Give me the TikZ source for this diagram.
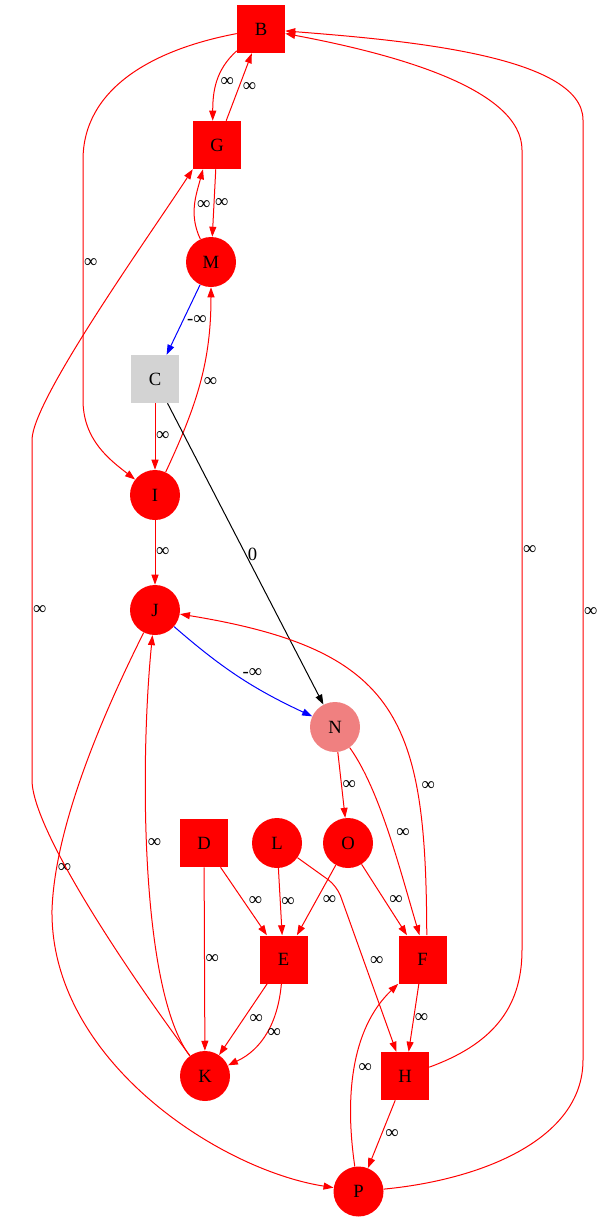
\documentclass[tikz,border=0pt]{standalone}
\usepackage{fontspec}
\setmainfont{Liberation Serif}
\usetikzlibrary{arrows.meta}
\definecolor{cgray}{HTML}{D3D3D3}
\definecolor{coral}{HTML}{F08080}
\begin{document}
\begin{tikzpicture}[x=0.75pt,y=0.75pt,
    every node/.style={font=\fontsize{14}{17}\selectfont,text=black},
    snode/.style={rectangle,fill=red,minimum size=36pt,inner sep=0pt},
    rnode/.style={circle,fill=red,minimum size=37.5pt,inner sep=0pt},
    link/.style={red,line width=0.75pt,-{Triangle[length=7.5pt,width=5.25pt]}},
    lbl/.style={right,inner sep=0.5pt}]
    \useasboundingbox (0,0) rectangle (602,-1221);

    % upper part
    \node[snode] (B) at (261,-29) {B};
    \node[snode] (G) at (217,-145) {G};
    \node[rnode] (M) at (211,-262) {M};
    \node[snode,fill=cgray] (C) at (155,-379) {C};
    \node[rnode] (I) at (155,-495) {I};
    \node[rnode] (J) at (155,-610) {J};
    \node[rnode,fill=coral] (N) at (335,-727) {N};

    % lower part
    \node[snode] (D) at (204,-843) {D};
    \node[rnode] (L) at (277,-843) {L};
    \node[rnode] (O) at (348,-843) {O};
    \node[snode] (E) at (283.5,-959.5) {E};
    \node[snode] (F) at (422.5,-959.5) {F};
    \node[rnode] (K) at (205,-1076) {K};
    \node[snode] (H) at (405,-1076) {H};
    \node[rnode] (P) at (358.5,-1191.5) {P};

    % bends of the long edges
    \coordinate (bi1) at (83,-160);
    \coordinate (bi2) at (83,-400);
    \coordinate (kg1) at (32,-780);
    \coordinate (kg2) at (32,-440);
    \coordinate (jp) at (52,-910);
    \coordinate (lh) at (337,-886);
    \coordinate (hb1) at (522,-950);
    \coordinate (hb2) at (522,-150);
    \coordinate (pb1) at (583,-1060);
    \coordinate (pb2) at (583,-120);

    % edges near the top
    \draw[link] (B) to[out=222,in=90] node[lbl,xshift=2pt]{∞} (G.100);
    \draw[link] (G) -- node[lbl,xshift=2pt]{∞} (B);
    \draw[link] (G) -- node[lbl]{∞} (M);
    \draw[link] (M) to[out=115,in=255] node[lbl,xshift=1pt]{∞} (G.240);
    \draw[link,blue] (M) -- node[lbl,xshift=2pt]{-∞} (C);
    \draw[link] (I) to[out=65,in=270] node[lbl,xshift=2pt]{∞} (M);
    \draw[link] (C) -- node[lbl]{∞} (I);
    \draw[link,black] (C) -- node[lbl,xshift=1pt]{0} (N);
    \draw[link] (B) .. controls (150,-50) and (83,-90) .. (bi1)
        -- node[lbl,pos=0.43]{∞} (bi2) .. controls (83,-440) and (110,-460) .. (I);
    \draw[link] (I) -- node[lbl]{∞} (J);
    \draw[link,blue] (J) to[bend right=8] node[above,pos=0.6,yshift=2pt]{-∞} (N);
    \draw[link] (F.80) .. controls (426,-720) and (400,-650) .. (J)
        node[lbl,pos=0.28,xshift=3pt]{∞};
    \draw[link] (J) .. controls (110,-700) and (55,-820) .. (jp)
        node[lbl,pos=0.85]{∞} .. controls (50,-1060) and (220,-1170) .. (P);
    \draw[link] (K) .. controls (130,-975) and (32,-830) .. (kg1)
        -- node[lbl]{∞} (kg2) .. controls (32,-400) and (150,-235) .. (G.south west);
    \draw[link] (K) .. controls (140,-990) and (140,-760) .. (J)
        node[lbl,pos=0.55]{∞};

    % edges near the bottom
    \draw[link] (N) -- node[lbl]{∞} (O);
    \draw[link] (N) .. controls (380,-790) and (400,-870) .. (F.97)
        node[lbl,pos=0.5,xshift=5pt]{∞};
    \draw[link] (D) -- node[lbl]{∞} (K);
    \draw[link] (D) -- node[lbl,xshift=3pt]{∞} (E);
    \draw[link] (L) -- node[lbl]{∞} (E);
    \draw[link] (O) -- node[lbl,xshift=4pt]{∞} (E);
    \draw[link] (O) -- node[lbl,xshift=3pt]{∞} (F);
    \draw[link,rounded corners=8pt] (L) -- (lh) -- node[lbl,pos=0.45,xshift=4pt]{∞} (H);
    \draw[link] (E) -- node[lbl,xshift=4pt]{∞} (K);
    \draw[link] (E) to[out=265,in=25] node[lbl]{∞} (K);
    \draw[link] (F) -- node[lbl]{∞} (H);
    \draw[link] (H) .. controls (490,-1045) and (522,-1010) .. (hb1)
        -- node[lbl]{∞} (hb2) .. controls (522,-90) and (400,-55) .. (B);
    \draw[link] (P) .. controls (345,-1100) and (350,-1030) .. (F.south west)
        node[lbl,pos=0.5,xshift=2pt]{∞};
    \draw[link] (H) -- node[lbl,xshift=2pt]{∞} (P);
    \draw[link] (P) .. controls (480,-1180) and (583,-1140) .. (pb1)
        -- node[lbl,pos=0.477]{∞} (pb2) .. controls (583,-55) and (400,-40) .. (B);
\end{tikzpicture}
\end{document}
